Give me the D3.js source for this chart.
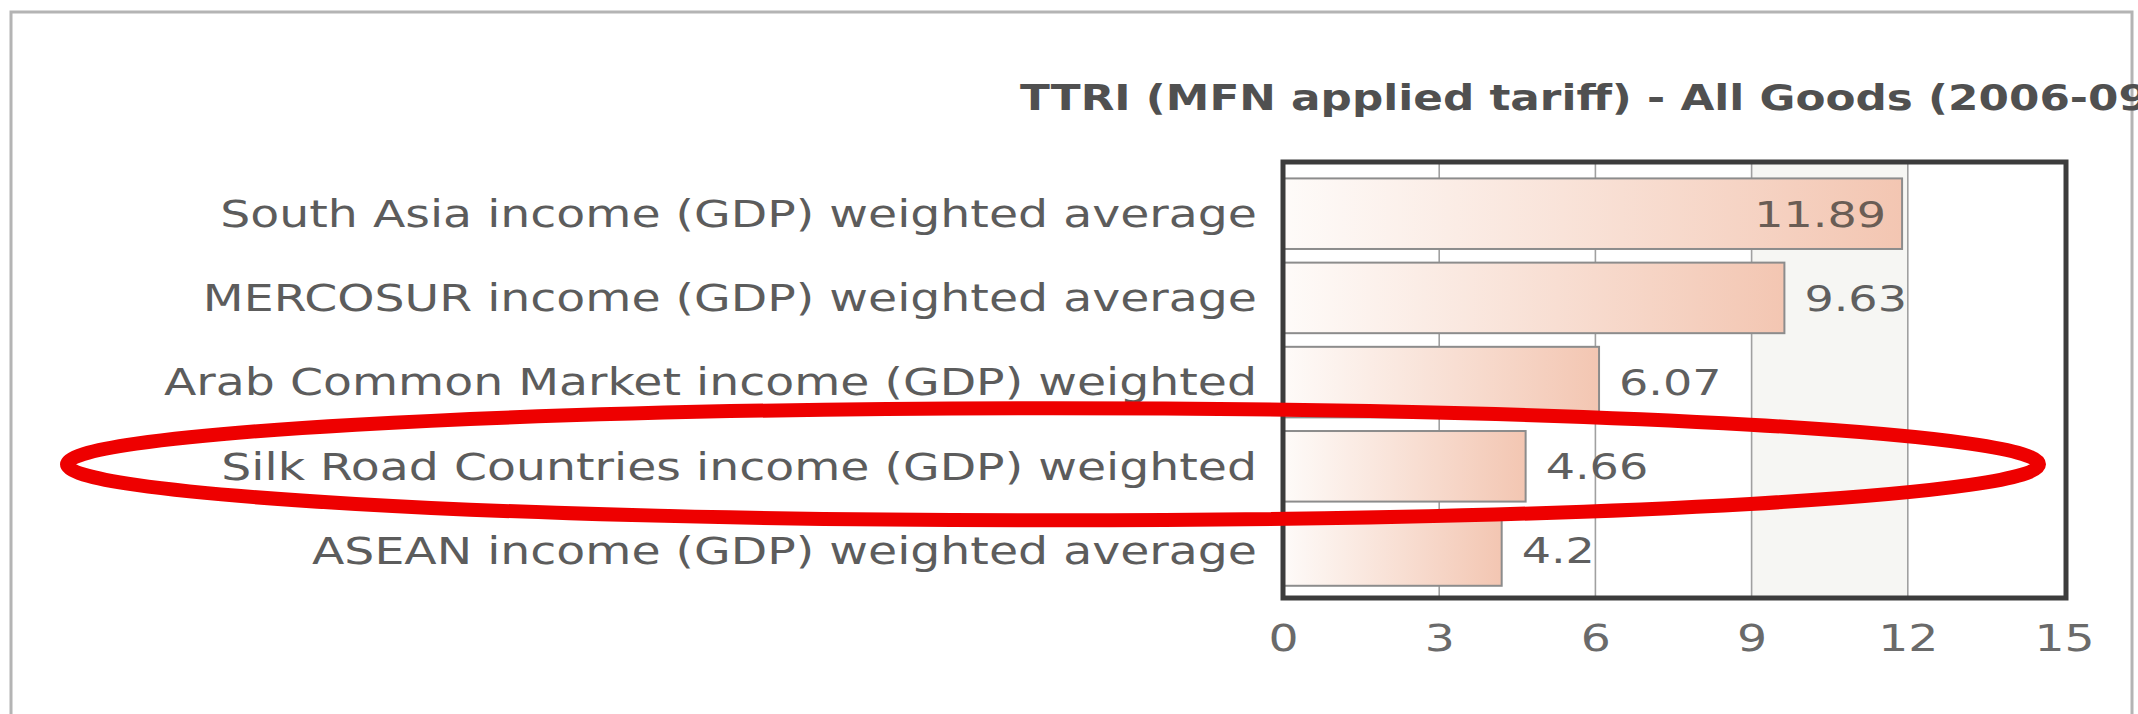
<!DOCTYPE html>
<html>
<head>
<meta charset="utf-8">
<script src="https://cdn.jsdelivr.net/npm/d3@7"></script>
<style>
  html, body { margin: 0; padding: 0; background: #ffffff; overflow: hidden; }
  svg { display: block; }
  text { font-family: "DejaVu Sans", Verdana, sans-serif; }
</style>
</head>
<body>
<svg id="chart" width="2138" height="714"></svg>
<script>
// ---- data ----
const categories = [
  "South Asia income (GDP) weighted average",
  "MERCOSUR income (GDP) weighted average",
  "Arab Common Market income (GDP) weighted",
  "Silk Road Countries income (GDP) weighted",
  "ASEAN income (GDP) weighted average"
];
const values = [11.89, 9.63, 6.07, 4.66, 4.2];
const valueLabels = ["11.89", "9.63", "6.07", "4.66", "4.2"];
const xTickValues = [0, 3, 6, 9, 12, 15];
const xTickLabels = ["0", "3", "6", "9", "12", "15"];
const titleText = "TTRI (MFN applied tariff) - All Goods (2006-09)";
const highlighted = "Silk Road Countries income (GDP) weighted";

// ---- layout ----
const plot = { left: 1283, right: 2066, top: 162, bottom: 598 };
const stretch = 1.28;

const svg = d3.select("#chart");
const defs = svg.append("defs");
const grad = defs.append("linearGradient").attr("id", "barGrad")
  .attr("x1", "0%").attr("x2", "100%").attr("y1", "0%").attr("y2", "0%");
grad.append("stop").attr("offset", "0%").attr("stop-color", "#fefbf9");
grad.append("stop").attr("offset", "100%").attr("stop-color", "#f3c6b2");

// outer frame
svg.append("rect")
  .attr("x", 11).attr("y", 12).attr("width", 2121).attr("height", 740)
  .attr("fill", "none").attr("stroke", "#b4b4b4").attr("stroke-width", 3);

const x = d3.scaleLinear().domain([0, 15]).range([plot.left, 2064]);
const y = d3.scaleBand().domain(categories)
  .range([171.6, 592.6]).paddingInner(0.162).paddingOuter(0.081);

// alternate band shading
svg.append("rect")
  .attr("x", x(9)).attr("y", plot.top)
  .attr("width", x(12) - x(9)).attr("height", plot.bottom - plot.top)
  .attr("fill", "#f6f6f3");

// gridlines
svg.append("g").selectAll("line")
  .data(xTickValues.filter(v => v > 0 && v < 15))
  .join("line")
  .attr("x1", d => x(d)).attr("x2", d => x(d))
  .attr("y1", plot.top).attr("y2", plot.bottom)
  .attr("stroke", "#a0a0a0").attr("stroke-width", 1.6);

// bars
svg.append("g").selectAll("rect")
  .data(categories)
  .join("rect")
  .attr("x", x(0))
  .attr("y", d => y(d))
  .attr("width", (d, i) => x(values[i]) - x(0))
  .attr("height", y.bandwidth())
  .attr("fill", "url(#barGrad)")
  .attr("stroke", "#8c8c8c").attr("stroke-width", 2);

// value labels
svg.append("g").selectAll("text")
  .data(categories)
  .join("text")
  .attr("transform", (d, i) => {
    const inside = values[i] > 11;
    const tx = inside ? x(values[i]) - 16 : x(values[i]) + 20;
    return `translate(${tx},${y(d) + y.bandwidth() / 2}) scale(${stretch},1)`;
  })
  .attr("text-anchor", (d, i) => values[i] > 11 ? "end" : "start")
  .attr("dy", "0.36em")
  .attr("font-size", 36)
  .attr("fill", (d, i) => values[i] > 11 ? "#6a5d55" : "#5f5f5f")
  .text((d, i) => valueLabels[i]);

// plot border
svg.append("rect")
  .attr("x", plot.left).attr("y", plot.top)
  .attr("width", plot.right - plot.left).attr("height", plot.bottom - plot.top)
  .attr("fill", "none").attr("stroke", "#3c3c3c").attr("stroke-width", 5);

// category labels
svg.append("g").selectAll("text")
  .data(categories)
  .join("text")
  .attr("transform", d => `translate(1257,${y(d) + y.bandwidth() / 2}) scale(${stretch},1)`)
  .attr("text-anchor", "end")
  .attr("dy", "0.36em")
  .attr("font-size", 37)
  .attr("fill", "#5c5c5c")
  .text(d => d);

// x axis
const xAxis = d3.axisBottom(x).tickValues(xTickValues)
  .tickFormat((d, i) => xTickLabels[i]).tickSize(0);
const ax = svg.append("g").attr("transform", `translate(0,${plot.bottom})`).call(xAxis);
ax.select(".domain").remove();
ax.selectAll("text")
  .attr("x", 0).attr("y", 40).attr("dy", "0.36em")
  .attr("transform", `scale(${stretch},1)`)
  .attr("font-size", 37)
  .attr("font-family", "DejaVu Sans, Verdana, sans-serif")
  .attr("fill", "#6a6a6a");

// title
svg.append("text")
  .attr("transform", `translate(1020,110) scale(1.25,1)`)
  .attr("font-size", 35)
  .attr("font-weight", "bold")
  .attr("fill", "#505050")
  .text(titleText);

// red highlight ellipse
svg.append("ellipse")
  .attr("cx", 1053)
  .attr("cy", y(highlighted) + y.bandwidth() / 2 - 2)
  .attr("rx", 986).attr("ry", 56)
  .attr("fill", "none")
  .attr("stroke", "#ee0000")
  .attr("stroke-width", 14);
</script>
</body>
</html>
